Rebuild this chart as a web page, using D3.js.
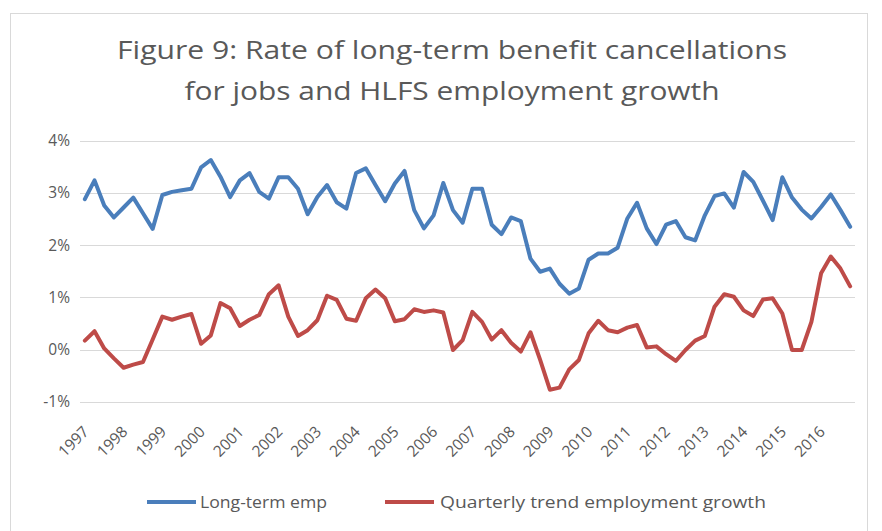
<!DOCTYPE html>
<html>
<head>
<meta charset="utf-8">
<script src="https://cdn.jsdelivr.net/npm/d3@7/dist/d3.min.js"></script>
<style>
  html, body { margin: 0; padding: 0; background: #fff; }
  svg { display: block; }
  text { font-family: "Open Sans", "DejaVu Sans", sans-serif; fill: #595959; }
</style>
</head>
<body>
<svg id="chart" width="882" height="531"></svg>
<script>
// Year labels on the category axis (one label every four quarters)
const years = [1997, 1998, 1999, 2000, 2001, 2002, 2003, 2004, 2005, 2006,
               2007, 2008, 2009, 2010, 2011, 2012, 2013, 2014, 2015, 2016];
const quarters = ["Q1", "Q2", "Q3", "Q4"];

// Long-term benefit cancellations for jobs (% rate), quarterly 1997 Q1 - 2016 Q4
const longTermEmp = [
  2.88, 3.24, 2.76, 2.53, 2.72, 2.91, 2.61, 2.31, 2.96, 3.02, 3.05, 3.08, 3.49, 3.63,
  3.31, 2.92, 3.24, 3.38, 3.02, 2.89, 3.30, 3.30, 3.08, 2.59, 2.92, 3.15, 2.82,
  2.70, 3.38, 3.47, 3.15, 2.84, 3.18, 3.42, 2.67, 2.32, 2.57, 3.19, 2.67, 2.43,
  3.08, 3.08, 2.39, 2.21, 2.53, 2.46, 1.74, 1.49, 1.55, 1.26, 1.07, 1.17, 1.72, 1.84,
  1.84, 1.95, 2.51, 2.81, 2.32, 2.02, 2.39, 2.46, 2.15, 2.09, 2.57, 2.94, 2.99,
  2.72, 3.40, 3.21, 2.85, 2.48, 3.30, 2.91, 2.68, 2.51, 2.73, 2.97, 2.67, 2.35
];

// HLFS quarterly trend employment growth (%)
const trendGrowth = [
  0.17, 0.35, 0.02, -0.17, -0.35, -0.29, -0.24, 0.19, 0.63, 0.57, 0.63, 0.68, 0.11, 0.27,
  0.89, 0.79, 0.45, 0.57, 0.66, 1.06, 1.23, 0.63, 0.26, 0.37, 0.56, 1.03, 0.95,
  0.59, 0.55, 0.98, 1.15, 0.98, 0.54, 0.58, 0.77, 0.72, 0.75, 0.71, -0.01, 0.18,
  0.72, 0.53, 0.19, 0.37, 0.13, -0.04, 0.33, -0.20, -0.77, -0.73, -0.38, -0.20, 0.31, 0.55,
  0.37, 0.33, 0.42, 0.47, 0.04, 0.06, -0.09, -0.22, -0.01, 0.17, 0.26, 0.82, 1.06,
  1.01, 0.75, 0.64, 0.96, 0.98, 0.69, -0.01, -0.01, 0.53, 1.46, 1.78, 1.55, 1.21
];

const yTicks = [-1, 0, 1, 2, 3, 4];

const seriesList = [
  { name: "Long-term emp", values: longTermEmp, color: "#4A7EBB" },
  { name: "Quarterly trend employment growth", values: trendGrowth, color: "#BE4B48" }
];

const categories = years.flatMap(y => quarters.map(q => y + " " + q));

const svg = d3.select("#chart");

// Chart frame
svg.append("rect")
  .attr("x", 10.5).attr("y", 13.5)
  .attr("width", 857).attr("height", 540)
  .attr("fill", "#fff").attr("stroke", "#D9D9D9").attr("stroke-width", 1);

// Title
const title = svg.append("g");
title.append("text")
  .attr("x", 452).attr("y", 59)
  .attr("text-anchor", "middle")
  .attr("font-size", 26)
  .attr("textLength", 670).attr("lengthAdjust", "spacingAndGlyphs")
  .text("Figure 9: Rate of long-term benefit cancellations");
title.append("text")
  .attr("x", 452).attr("y", 100)
  .attr("text-anchor", "middle")
  .attr("font-size", 26)
  .attr("textLength", 535).attr("lengthAdjust", "spacingAndGlyphs")
  .text("for jobs and HLFS employment growth");

// Scales
const plot = { left: 80, right: 855, top: 140.7, bottom: 401.7 };
const x = d3.scaleBand().domain(categories).range([plot.left, plot.right]);
const y = d3.scaleLinear().domain([-1, 4]).range([plot.bottom, plot.top]);
const cx = c => x(c) + x.bandwidth() / 2;

// Horizontal gridlines
svg.append("g")
  .selectAll("line")
  .data(yTicks)
  .join("line")
  .attr("x1", plot.left).attr("x2", plot.right)
  .attr("y1", d => Math.round(y(d)) + 0.5).attr("y2", d => Math.round(y(d)) + 0.5)
  .attr("stroke", "#D9D9D9").attr("stroke-width", 1);

// Y axis labels
const yAxis = d3.axisLeft(y).tickValues(yTicks).tickFormat(d => d + "%").tickSize(0).tickPadding(0);
svg.append("g")
  .attr("transform", `translate(${plot.left - 10},0)`)
  .call(yAxis)
  .call(g => g.select(".domain").remove())
  .call(g => g.selectAll("text")
    .attr("font-size", 15.5)
    .attr("font-family", null)
    .attr("fill", "#595959"));

// X axis labels, rotated, one per year
const yearCats = years.map(yr => yr + " Q1");
const xAxis = d3.axisBottom(x).tickValues(yearCats).tickFormat(c => c.slice(0, 4)).tickSize(0);
svg.append("g")
  .attr("transform", `translate(0,${plot.bottom})`)
  .call(xAxis)
  .call(g => g.select(".domain").remove())
  .call(g => g.selectAll(".tick text")
    .attr("font-size", 15.5)
    .attr("font-family", null)
    .attr("fill", "#595959")
    .attr("text-anchor", "end")
    .attr("dy", null)
    .attr("y", 0)
    .attr("transform", "translate(5,31) rotate(-45)"));

// Lines
const line = d3.line()
  .x((d, i) => cx(categories[i]))
  .y(d => y(d));

svg.append("g")
  .selectAll("path")
  .data(seriesList)
  .join("path")
  .attr("d", s => line(s.values))
  .attr("fill", "none")
  .attr("stroke", s => s.color)
  .attr("stroke-width", 4)
  .attr("stroke-linejoin", "round")
  .attr("stroke-linecap", "round");

// Legend
const legendItems = [
  { s: seriesList[0], x0: 147, tx: 200, len: 127 },
  { s: seriesList[1], x0: 385, tx: 440, len: 326 }
];
const legend = svg.append("g");
legendItems.forEach(it => {
  legend.append("line")
    .attr("x1", it.x0).attr("x2", it.x0 + 49)
    .attr("y1", 502).attr("y2", 502)
    .attr("stroke", it.s.color).attr("stroke-width", 4);
  legend.append("text")
    .attr("x", it.tx).attr("y", 508)
    .attr("font-size", 17)
    .attr("textLength", it.len).attr("lengthAdjust", "spacingAndGlyphs")
    .text(it.s.name);
});
</script>
</body>
</html>
